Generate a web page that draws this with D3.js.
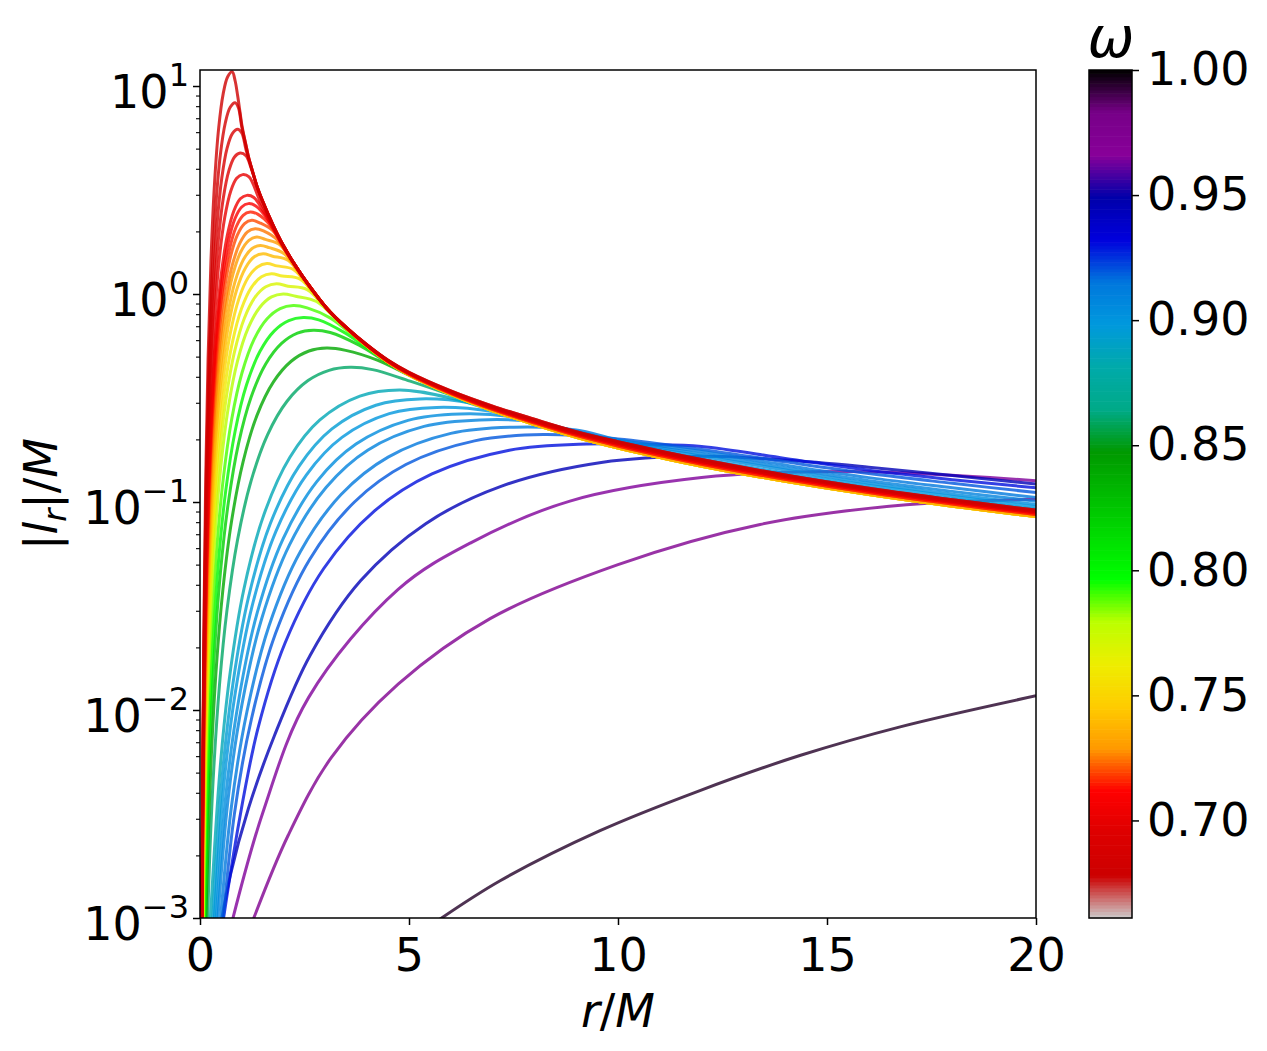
<!DOCTYPE html>
<html><head><meta charset="utf-8">
<script src="https://cdn.jsdelivr.net/npm/d3@7"></script>
<style>
body{margin:0;background:#fff;}
svg{display:block;}
text{font-family:"DejaVu Sans",sans-serif;fill:#000;}
</style></head><body>
<svg id="chart" width="1267" height="1051"></svg>
<script>
// ---------------- DATA ----------------
const xTicks = [0, 5, 10, 15, 20];
const yExponents = [1, 0, -1, -2, -3];
const cbTicks = [0.70, 0.75, 0.80, 0.85, 0.90, 0.95, 1.00];
const omegaMin = 0.661, omegaMax = 1.0;

// common envelope (r, |l_r|/M) where the low-omega curves merge; the band has a small spread
const envR   = [1.0,1.1,1.16,1.25,1.36,1.5,1.75,2.0,2.27,2.55,3.03,3.5,4.0,4.5,5.0,6.0,7.0,8.0,9.0,10,11,12,14,16,18,20];
const envH1  = [6.52,5.19,4.57,3.93,3.31,2.79,2.14,1.70,1.38,1.14,0.855,0.691,0.569,0.480,0.420,0.342,0.289,0.250,0.218,0.195,0.176,0.160,0.135,0.1166,0.1026,0.0914];
const envH2  = [6.52,5.19,4.57,3.93,3.31,2.79,2.14,1.70,1.38,1.14,0.855,0.690,0.567,0.478,0.417,0.339,0.285,0.246,0.215,0.192,0.173,0.157,0.1328,0.1147,0.1009,0.0899];
const envH3  = [6.52,5.19,4.57,3.93,3.31,2.79,2.14,1.70,1.38,1.14,0.855,0.689,0.565,0.475,0.415,0.336,0.282,0.243,0.212,0.189,0.170,0.1546,0.1308,0.1129,0.0994,0.0885];
const envMid = [6.52,5.19,4.57,3.93,3.31,2.79,2.14,1.70,1.38,1.14,0.855,0.688,0.563,0.473,0.412,0.333,0.279,0.240,0.209,0.186,0.1675,0.152,0.1286,0.111,0.0977,0.087];
const envLow = [6.52,5.19,4.57,3.93,3.31,2.79,2.14,1.70,1.38,1.14,0.855,0.6865,0.5605,0.470,0.408,0.329,0.2747,0.2358,0.2049,0.1819,0.1638,0.1487,0.1258,0.1086,0.0955,0.0851];

// peaked curves (red -> teal), each before it joins the envelope
const omegaA = [0.68,0.685,0.69,0.695,0.70,0.705,0.71,0.715,0.72,0.725,0.73,0.735,0.74,0.75,0.76,0.77,0.78,0.79,0.80,0.82,0.84,0.86];
const tailA  = ['h1','h1','h2','h2','h2','h3','h3','mid','mid','mid','mid','low','low','low','low','low','low','mid','mid','mid','mid','mid'];
const joinA  = [1.0,1.1,1.25,1.36,2.0,2.0,2.27,2.27,2.27,2.55,2.55,2.55,3.03,3.03,3.5,3.5,4.0,4.0,4.5,5.0,6.0,7.0];

const a01 = [[0.0347,0.000256],[0.05,0.00146],[0.0693,0.00653],[0.1001,0.0336],[0.1386,0.133],[0.1925,0.485],[0.2618,1.44],[0.3465,3.38],[0.4466,6.27],[0.5544,9.17],[0.6622,11.08],[0.77,11.7],[0.84,10.6],[0.9,9.0],[0.957,7.5]];
const a02 = [[0.0378,0.000428],[0.0546,0.00212],[0.0756,0.00843],[0.1092,0.0381],[0.1512,0.135],[0.21,0.445],[0.2856,1.21],[0.378,2.65],[0.4872,4.68],[0.6048,6.64],[0.7224,7.9],[0.84,8.3],[0.92,7.85],[1.0,6.35]];
const a03 = [[0.0405,0.000608],[0.0585,0.00272],[0.081,0.00986],[0.117,0.0404],[0.162,0.132],[0.225,0.401],[0.306,1.02],[0.405,2.13],[0.522,3.62],[0.648,5.03],[0.774,5.91],[0.9,6.2],[1.0,5.95],[1.1,4.95]];
const a04 = [[0.0288,0.000187],[0.0432,0.00089],[0.0624,0.00358],[0.0864,0.0119],[0.1248,0.0442],[0.1728,0.133],[0.24,0.374],[0.3264,0.892],[0.432,1.76],[0.5568,2.89],[0.6912,3.92],[0.8256,4.56],[0.96,4.76],[1.1,4.62],[1.22,4.05]];
const a05 = [[0.0306,0.000244],[0.0459,0.00108],[0.0663,0.00404],[0.0918,0.0127],[0.1326,0.0439],[0.1836,0.125],[0.255,0.334],[0.3468,0.763],[0.459,1.46],[0.5916,2.33],[0.7344,3.12],[0.8772,3.6],[1.02,3.75],[1.173,3.66],[1.428,2.83],[1.734,2.15]];
const a06 = [[0.0336,0.000322],[0.0504,0.00132],[0.0728,0.0046],[0.1008,0.0136],[0.1456,0.0441],[0.2016,0.119],[0.28,0.301],[0.3808,0.66],[0.504,1.22],[0.6496,1.9],[0.8064,2.5],[0.9632,2.87],[1.12,2.98],[1.288,2.91],[1.568,2.41],[1.904,1.83]];
const a07 = [[0.0348,0.00038],[0.0522,0.00149],[0.0754,0.00503],[0.1044,0.0144],[0.1508,0.0453],[0.2088,0.119],[0.29,0.294],[0.3944,0.629],[0.522,1.14],[0.6728,1.76],[0.8352,2.3],[0.9976,2.62],[1.16,2.72],[1.334,2.65],[1.624,2.28],[1.972,1.72]];
const a08 = [[0.036,0.000392],[0.054,0.00151],[0.078,0.005],[0.108,0.0141],[0.156,0.0437],[0.216,0.113],[0.3,0.276],[0.408,0.584],[0.54,1.05],[0.696,1.61],[0.864,2.1],[1.032,2.39],[1.2,2.48],[1.38,2.42],[1.68,2.14],[2.04,1.62]];
const a09 = [[0.0372,0.000406],[0.0558,0.00153],[0.0806,0.005],[0.1116,0.0139],[0.1612,0.0422],[0.2232,0.108],[0.31,0.26],[0.4216,0.544],[0.558,0.971],[0.7192,1.48],[0.8928,1.92],[1.0664,2.18],[1.24,2.26],[1.426,2.2],[1.736,2.02],[2.108,1.54]];
const a10 = [[0.0396,0.00042],[0.0594,0.00156],[0.0858,0.00498],[0.1188,0.0136],[0.1716,0.0409],[0.2376,0.103],[0.33,0.244],[0.4488,0.507],[0.594,0.896],[0.7656,1.36],[0.9504,1.75],[1.1352,1.99],[1.32,2.06],[1.518,2.01],[1.848,1.82],[2.244,1.39]];
const a11 = [[0.0408,0.000435],[0.0612,0.00158],[0.0884,0.00497],[0.1224,0.0134],[0.1768,0.0395],[0.2448,0.0981],[0.34,0.23],[0.4624,0.472],[0.612,0.828],[0.7888,1.245],[0.9792,1.6],[1.1696,1.81],[1.36,1.88],[1.564,1.83],[1.904,1.73],[2.312,1.32]];
const a12 = [[0.0432,0.00045],[0.0648,0.0016],[0.0936,0.00495],[0.1296,0.0131],[0.1872,0.0381],[0.2592,0.0933],[0.36,0.216],[0.4896,0.438],[0.648,0.763],[0.8352,1.14],[1.0368,1.46],[1.2384,1.65],[1.44,1.71],[1.656,1.67],[2.016,1.56],[2.448,1.2]];
const a13 = [[0.0453,0.000465],[0.068,0.00162],[0.0982,0.00494],[0.1359,0.0129],[0.1963,0.0368],[0.2718,0.089],[0.3775,0.2035],[0.5134,0.408],[0.6795,0.704],[0.8758,1.046],[1.0872,1.335],[1.2986,1.51],[1.51,1.56],[1.7365,1.52],[2.114,1.45],[2.567,1.11]];
const a14 = [[0.048,0.000474],[0.072,0.00162],[0.104,0.00485],[0.144,0.0125],[0.208,0.0351],[0.288,0.0836],[0.4,0.1885],[0.544,0.374],[0.72,0.64],[0.928,0.945],[1.152,1.2],[1.376,1.35],[1.6,1.4],[1.84,1.365],[2.24,1.31],[2.72,1.01]];
const a15 = [[0.0513,0.000481],[0.077,0.00161],[0.1112,0.00474],[0.1539,0.012],[0.2223,0.0332],[0.3078,0.078],[0.4275,0.174],[0.5814,0.341],[0.7695,0.579],[0.9918,0.849],[1.2312,1.076],[1.4706,1.21],[1.71,1.25],[1.9665,1.22],[2.394,1.18],[2.907,0.907]];
const a16 = [[0.0549,0.000489],[0.0824,0.00161],[0.119,0.00464],[0.1647,0.0116],[0.2379,0.0315],[0.3294,0.0731],[0.4575,0.161],[0.6222,0.312],[0.8235,0.525],[1.0614,0.765],[1.3176,0.965],[1.5738,1.083],[1.83,1.12],[2.1045,1.09],[2.562,1.05],[3.111,0.811]];
const a17 = [[0.0597,0.000496],[0.0896,0.0016],[0.1294,0.00454],[0.1791,0.0112],[0.2587,0.0299],[0.3582,0.0683],[0.4975,0.148],[0.6766,0.285],[0.8955,0.475],[1.1542,0.688],[1.4328,0.864],[1.7114,0.968],[1.99,1.0],[2.2885,0.975],[2.786,0.92],[3.383,0.715]];
const a18 = [[0.0669,0.000436],[0.1004,0.00141],[0.145,0.00399],[0.2007,0.00982],[0.2899,0.0263],[0.4014,0.06],[0.5575,0.13],[0.7582,0.25],[1.0035,0.417],[1.2934,0.605],[1.6056,0.76],[1.9178,0.851],[2.23,0.88],[2.5645,0.858],[3.122,0.766],[3.791,0.603]];
const a19 = [[0.0741,0.000381],[0.1112,0.00123],[0.1606,0.00349],[0.2223,0.0086],[0.3211,0.023],[0.4446,0.0525],[0.6175,0.114],[0.8398,0.219],[1.1115,0.365],[1.4326,0.529],[1.7784,0.665],[2.1242,0.745],[2.47,0.77],[2.8405,0.751],[3.458,0.652],[4.199,0.517]];
const a20 = [[0.0813,0.000332],[0.122,0.00107],[0.1762,0.00304],[0.2439,0.00748],[0.3523,0.02],[0.4878,0.0457],[0.6775,0.0993],[0.9214,0.191],[1.2195,0.318],[1.5718,0.461],[1.9512,0.579],[2.3306,0.649],[2.71,0.67],[3.1165,0.653],[3.794,0.569],[4.607,0.452]];
const a21 = [[0.1364,0.000879],[0.197,0.00249],[0.2727,0.00614],[0.3939,0.0164],[0.5454,0.0375],[0.7575,0.0814],[1.0302,0.156],[1.3635,0.261],[1.7574,0.378],[2.1816,0.475],[2.6058,0.532],[3.03,0.55],[3.4845,0.536],[4.242,0.481],[5.151,0.393]];
const a22 = [[0.1616,0.00071],[0.2334,0.00201],[0.3231,0.00496],[0.4667,0.01325],[0.6462,0.0303],[0.8975,0.0657],[1.2206,0.126],[1.6155,0.2105],[2.0822,0.305],[2.5848,0.3835],[3.0874,0.4295],[3.59,0.444],[4.1285,0.433],[5.026,0.381],[6.103,0.322]];
const groupA = [a01,a02,a03,a04,a05,a06,a07,a08,a09,a10,a11,a12,a13,a14,a15,a16,a17,a18,a19,a20,a21,a22];

// broad cyan/blue curves
const omegaB = [0.885,0.895,0.90,0.905,0.91,0.915,0.92,0.93,0.945];
const b1 = [[0.23,0.00085],[0.478,0.00515],[0.717,0.0149],[1.052,0.0383],[1.53,0.0871],[2.151,0.164],[2.868,0.248],[3.824,0.323],[4.78,0.346],[6.0,0.316],[8.0,0.238],[10,0.186],[12,0.152],[14,0.1305],[16,0.113],[18,0.1001],[20,0.0896]];
const b2 = [[0.263,0.00068],[0.526,0.00466],[0.789,0.01346],[1.157,0.0346],[1.683,0.0788],[2.367,0.1484],[3.156,0.2247],[4.208,0.292],[5.26,0.313],[6.5,0.298],[8.0,0.241],[10,0.188],[12,0.157],[14,0.1345],[16,0.1166],[18,0.1033],[20,0.0922]];
const b3 = [[0.283,0.000624],[0.566,0.00425],[0.849,0.01227],[1.245,0.0315],[1.811,0.0718],[2.547,0.1352],[3.396,0.2046],[4.528,0.266],[5.66,0.285],[7.0,0.272],[8.5,0.226],[10,0.1916],[12,0.161],[14,0.138],[16,0.120],[18,0.1062],[20,0.0948]];
const b4 = [[0.311,0.00058],[0.622,0.00395],[0.933,0.0114],[1.368,0.0293],[1.99,0.0667],[2.799,0.1257],[3.732,0.190],[4.976,0.247],[6.22,0.265],[7.5,0.256],[9.0,0.214],[10,0.194],[12,0.166],[14,0.1425],[16,0.123],[18,0.109],[20,0.0974]];
const b5 = [[0.335,0.000542],[0.67,0.00369],[1.005,0.01067],[1.474,0.0274],[2.144,0.0624],[3.015,0.1175],[4.02,0.178],[5.36,0.231],[6.7,0.248],[8.0,0.243],[9.0,0.219],[10,0.197],[12,0.170],[14,0.146],[16,0.1265],[18,0.1125],[20,0.1009]];
const b6 = [[0.375,0.0005],[0.75,0.00341],[1.125,0.00986],[1.65,0.02535],[2.4,0.0577],[3.375,0.1086],[4.5,0.1644],[6.0,0.2138],[7.5,0.229],[9.0,0.222],[10,0.199],[12,0.175],[14,0.1505],[16,0.131],[18,0.117],[20,0.105]];
const b7 = [[0.41,0.00046],[0.821,0.00314],[1.232,0.00908],[1.806,0.0233],[2.627,0.0531],[3.695,0.100],[4.926,0.1514],[6.568,0.1968],[8.21,0.211],[10,0.201],[12,0.179],[14,0.156],[16,0.137],[18,0.123],[20,0.111]];
const b8 = [[0.40,0.0006],[0.925,0.00283],[1.388,0.00818],[2.035,0.021],[2.96,0.0479],[4.163,0.0902],[5.55,0.1364],[7.4,0.1774],[9.25,0.19],[10.7,0.189],[12,0.185],[14,0.162],[16,0.142],[18,0.128],[20,0.117]];
const b9 = [[0.44,0.0008],[0.727,0.00161],[1.158,0.00336],[1.78,0.00752],[2.64,0.0184],[3.84,0.0418],[5.4,0.0787],[7.2,0.119],[9.6,0.155],[12,0.166],[14,0.159],[16,0.147],[18,0.134],[20,0.122]];
const groupB = [b1,b2,b3,b4,b5,b6,b7,b8,b9];

// purple and near-black curves
const omegaP = [0.965, 0.975, 0.995];
const p1 = [[0.70,0.00085],[1.5,0.0032],[2.6,0.0115],[4.74,0.038],[6.5,0.064],[8.85,0.101],[12,0.131],[15.5,0.140],[20,0.1266]];
const p2 = [[1.20,0.0009],[2.11,0.0025],[3.14,0.0059],[4.74,0.0133],[6.94,0.0275],[10,0.050],[13.4,0.078],[16.9,0.097],[20,0.103]];
const p3 = [[5.55,0.00093],[7.18,0.00151],[9.57,0.00263],[11.96,0.0041],[14.35,0.00604],[16.75,0.0083],[20,0.0117]];
const groupP = [p1,p2,p3];

// nipy_spectral colormap definition
const nipyPos = [0,0.05,0.10,0.15,0.20,0.25,0.30,0.35,0.40,0.45,0.50,0.55,0.60,0.65,0.70,0.75,0.80,0.85,0.90,0.95,1.0];
const nipyR = [0,.4667,.5333,0,0,0,0,0,0,0,0,0,0,.7333,.9333,1,1,1,.8667,.8,.8];
const nipyG = [0,0,0,0,0,.4667,.6,.6667,.6667,.6,.7333,.8667,1,1,.9333,.8,.6,0,0,0,.8];
const nipyB = [0,.5333,.6,.6667,.8667,.8667,.8667,.6667,.5333,0,0,0,0,0,0,0,0,0,0,0,.8];

// ---------------- DRAWING ----------------
const M = {left:200, right:1036, top:70, bottom:918};
const svg = d3.select('#chart');
const x = d3.scaleLinear().domain([0,20]).range([M.left, M.right]);
const y = d3.scaleLog().domain([1e-3, Math.pow(10,1.077)]).range([M.bottom, M.top]);

const nipy = d3.scaleLinear().domain(nipyPos)
  .range(nipyPos.map((p,i)=>d3.rgb(nipyR[i]*255, nipyG[i]*255, nipyB[i]*255)))
  .interpolate(d3.interpolateRgb).clamp(true);
const omegaNorm = d3.scaleLinear().domain([omegaMin, omegaMax]).range([0,1]).clamp(true);
const omegaColor = w => nipy(1 - omegaNorm(w));

svg.append('rect').attr('width',1267).attr('height',1051).attr('fill','#fff');
svg.append('defs').append('clipPath').attr('id','plotclip').append('rect')
  .attr('x',M.left).attr('y',M.top).attr('width',M.right-M.left).attr('height',M.bottom-M.top);

const tails = {h1:envH1, h2:envH2, h3:envH3, mid:envMid, low:envLow};
const curves = [];
groupA.forEach((pts,i)=>{
  const t = tails[tailA[i]];
  const tail = envR.map((r,j)=>[r,t[j]]).filter(p=>p[0] >= joinA[i]-1e-9);
  curves.push({omega:omegaA[i], pts:pts.concat(tail)});
});
groupB.forEach((pts,i)=>curves.push({omega:omegaB[i], pts}));
groupP.forEach((pts,i)=>curves.push({omega:omegaP[i], pts}));
curves.sort((a,b)=>b.omega-a.omega);

const line = d3.line().x(d=>x(d[0])).y(d=>y(d[1])).curve(d3.curveCatmullRom.alpha(0.5));
svg.append('g').attr('clip-path','url(#plotclip)')
  .selectAll('path').data(curves).join('path')
  .attr('d', d=>line(d.pts))
  .attr('fill','none')
  .attr('stroke', d=>omegaColor(d.omega))
  .attr('stroke-opacity', 0.8)
  .attr('stroke-width', 3)
  .attr('stroke-linejoin','round');

// axes
const FS = 46;
const xAxis = svg.append('g').attr('transform',`translate(0,${M.bottom})`)
  .call(d3.axisBottom(x).tickValues(xTicks).tickSize(7).tickSizeOuter(0).tickPadding(13).tickFormat(d3.format('d')));
xAxis.select('.domain').remove();
xAxis.selectAll('line').attr('stroke','#000').attr('stroke-width',1.5);
xAxis.selectAll('text').attr('font-size',FS).attr('font-family','DejaVu Sans').attr('fill','#000');

const yMajor = yExponents.map(e=>Math.pow(10,e));
const yMinor = [];
[-3,-2,-1,0].forEach(e=>{ for(let k=2;k<=9;k++) yMinor.push(k*Math.pow(10,e)); });
const yAxisMinor = svg.append('g').attr('transform',`translate(${M.left},0)`)
  .call(d3.axisLeft(y).tickValues(yMinor).tickSize(4).tickSizeOuter(0).tickFormat(''));
yAxisMinor.select('.domain').remove();
yAxisMinor.selectAll('line').attr('stroke','#000').attr('stroke-width',1.1);
const yAxis = svg.append('g').attr('transform',`translate(${M.left},0)`)
  .call(d3.axisLeft(y).tickValues(yMajor).tickSize(7).tickSizeOuter(0).tickFormat(''));
yAxis.select('.domain').remove();
yAxis.selectAll('line').attr('stroke','#000').attr('stroke-width',1.5);

const yl = svg.append('g').selectAll('text').data(yExponents).join('text')
  .attr('x', 189).attr('y', e=>y(Math.pow(10,e))+22)
  .attr('text-anchor','end').attr('font-size',FS);
yl.append('tspan').text('10');
yl.append('tspan').attr('font-size',32).attr('dy',-22).text(e=> e<0 ? '\u2212'+(-e) : String(e));

// frame
svg.append('rect').attr('x',M.left).attr('y',M.top).attr('width',M.right-M.left).attr('height',M.bottom-M.top)
  .attr('fill','none').attr('stroke','#000').attr('stroke-width',1.5);

// axis labels
const xl = svg.append('text').attr('x',618).attr('y',1027).attr('text-anchor','middle').attr('font-size',FS);
xl.append('tspan').attr('font-style','italic').text('r');
xl.append('tspan').text('/');
xl.append('tspan').attr('font-style','italic').text('M');

const ylab = svg.append('text').attr('transform','translate(57,494) rotate(-90)').attr('text-anchor','middle').attr('font-size',FS);
ylab.append('tspan').text('|');
ylab.append('tspan').attr('font-style','italic').text('l');
ylab.append('tspan').attr('font-style','italic').attr('font-size',32).attr('dy',9).text('r');
ylab.append('tspan').attr('dy',-9).text('|/');
ylab.append('tspan').attr('font-style','italic').text('M');

// colorbar
const CB = {x0:1089, x1:1132};
const cb = d3.scaleLinear().domain([omegaMin, omegaMax]).range([M.bottom, M.top]);
const N = 256;
const bands = d3.range(N);
svg.append('g').selectAll('rect').data(bands).join('rect')
  .attr('x', CB.x0).attr('width', CB.x1-CB.x0)
  .attr('y', i=>cb(omegaMin + (i+1)/N*(omegaMax-omegaMin)))
  .attr('height', i=>cb(omegaMin + i/N*(omegaMax-omegaMin)) - cb(omegaMin + (i+1)/N*(omegaMax-omegaMin)) + 0.6)
  .attr('fill', i=>nipy(1 - (i+0.5)/N));
svg.append('rect').attr('x',CB.x0).attr('y',M.top).attr('width',CB.x1-CB.x0).attr('height',M.bottom-M.top)
  .attr('fill','none').attr('stroke','#000').attr('stroke-width',1.5);
const cbAxis = svg.append('g').attr('transform',`translate(${CB.x1},0)`)
  .call(d3.axisRight(cb).tickValues(cbTicks).tickSize(7).tickSizeOuter(0).tickPadding(8).tickFormat(d3.format('.2f')));
cbAxis.select('.domain').remove();
cbAxis.selectAll('line').attr('stroke','#000').attr('stroke-width',1.5);
cbAxis.selectAll('text').attr('font-size',FS).attr('font-family','DejaVu Sans').attr('fill','#000');

svg.append('text').attr('x',1111).attr('y',57).attr('text-anchor','middle')
  .attr('font-size',56).attr('font-style','italic').text('\u03c9');
</script></body></html>
